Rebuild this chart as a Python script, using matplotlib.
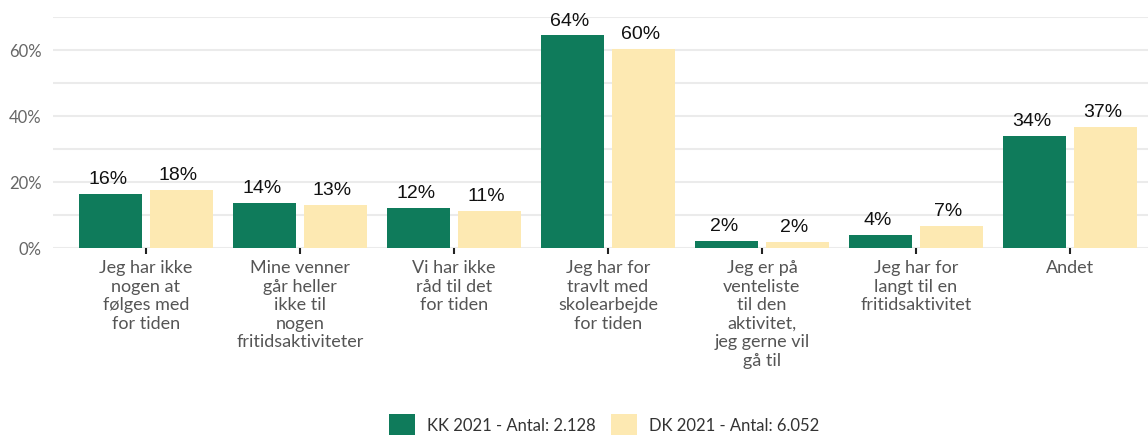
import matplotlib.pyplot as plt
import numpy as np

categories = [
    'Jeg har ikke\nnogen at\nfølges med\nfor tiden',
    'Mine venner\ngår heller\nikke til\nnogen\nfritidsaktiviteter',
    'Vi har ikke\nråd til det\nfor tiden',
    'Jeg har for\ntravlt med\nskolearbejde\nfor tiden',
    'Jeg er på\nventeliste\ntil den\naktivitet,\njeg gerne vil\ngå til',
    'Jeg har for\nlangt til en\nfritidsaktivitet',
    'Andet',
]
kk = [16.4, 13.6, 12.1, 64.4, 2.1, 4.0, 33.8]
dk = [17.7, 13.1, 11.1, 60.4, 1.7, 6.6, 36.8]
kk_labels = ['16%', '14%', '12%', '64%', '2%', '4%', '34%']
dk_labels = ['18%', '13%', '11%', '60%', '2%', '7%', '37%']

green = '#0f7b5b'
yellow = '#fde9b2'

fig = plt.figure(figsize=(11.48, 4.39), dpi=100)
ax = fig.add_axes([0.046, 0.433, 0.954, 0.526])

x = np.arange(len(categories))
w = 0.41
b1 = ax.bar(x - 0.23, kk, w, color=green, label='KK 2021 - Antal: 2.128', zorder=3)
b2 = ax.bar(x + 0.23, dk, w, color=yellow, label='DK 2021 - Antal: 6.052', zorder=3)

for bars, labs in [(b1, kk_labels), (b2, dk_labels)]:
    for rect, lab in zip(bars, labs):
        ax.annotate(lab, (rect.get_x() + rect.get_width() / 2, rect.get_height()),
                    xytext=(-2, 5), textcoords='offset points', ha='center', va='bottom',
                    fontsize=14, color='#111111', family='Liberation Sans',
                    annotation_clip=False)

ax.set_xlim(-0.604, 6.507)
ax.set_ylim(0, 70)
ax.set_yticks([0, 20, 40, 60])
ax.set_yticklabels(['0%', '20%', '40%', '60%'])
ax.set_yticks([10, 30, 50, 70], minor=True)
ax.grid(axis='y', which='both', color='#ebebeb', linewidth=1.5, zorder=0)
ax.tick_params(axis='y', which='both', length=0, pad=8, labelsize=12, labelcolor='#666666')
for lab in ax.get_yticklabels():
    lab.set_family('Lato')

ax.set_xticks(x)
ax.set_xticklabels(categories, fontsize=13, color='#555555', family='Lato',
                   linespacing=1.2, va='top')
ax.tick_params(axis='x', length=4, width=1.5, color='#222222', pad=4)

for s in ax.spines.values():
    s.set_visible(False)

leg = fig.legend(handles=[b1, b2], loc='lower center', bbox_to_anchor=(0.526, -0.028),
                 ncol=2, frameon=False, handlelength=1.6, handleheight=1.6,
                 columnspacing=0.9, handletextpad=0.7, prop={'family': 'Lato', 'size': 12})
for t in leg.get_texts():
    t.set_color('#333333')

fig.savefig('out.png', dpi=100)
